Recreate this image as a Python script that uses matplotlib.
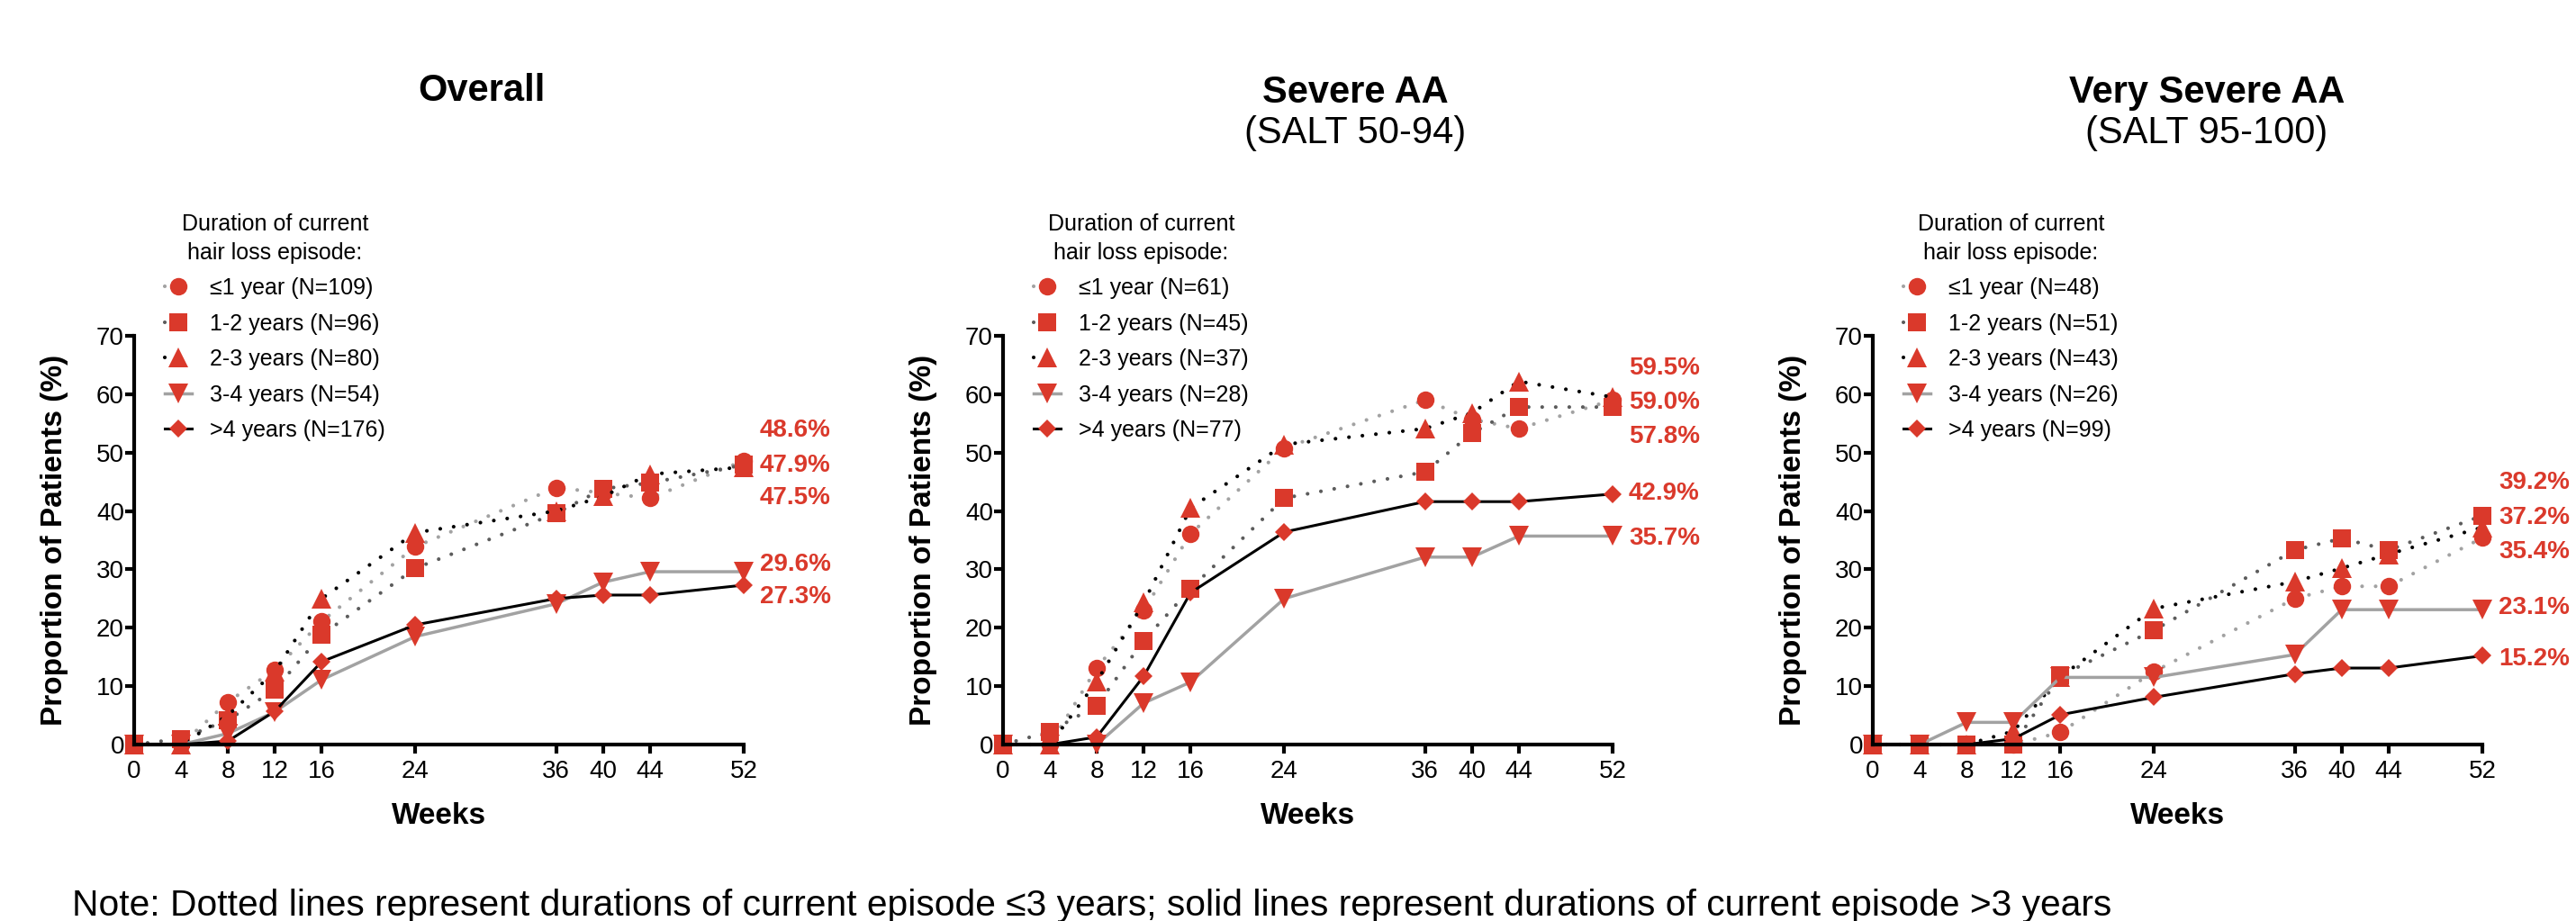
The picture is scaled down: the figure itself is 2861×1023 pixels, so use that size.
import matplotlib
matplotlib.use('Agg')
import matplotlib.pyplot as plt

plt.rcParams['font.family'] = ['Liberation Sans', 'DejaVu Sans']

weeks = [0, 4, 8, 12, 16, 24, 36, 40, 44, 52]
durations = ['\u22641 year', '1-2 years', '2-3 years', '3-4 years', '>4 years']

# Overall
overall_le1 = [0, 0, 7.3, 12.8, 21.1, 33.9, 44.0, 43.1, 42.2, 48.6]
overall_1_2 = [0, 1.0, 4.2, 9.4, 18.8, 30.2, 39.6, 43.8, 44.8, 47.9]
overall_2_3 = [0, 0, 5.0, 12.5, 25.0, 36.3, 40.0, 42.5, 46.3, 47.5]
overall_3_4 = [0, 0, 1.9, 5.6, 11.1, 18.5, 24.1, 27.8, 29.6, 29.6]
overall_gt4 = [0, 0, 0.6, 5.7, 14.2, 20.5, 25.0, 25.6, 25.6, 27.3]
overall_n = [109, 96, 80, 54, 176]

# Severe AA (SALT 50-94)
severe_le1 = [0, 0, 13.1, 23.0, 36.1, 50.8, 59.0, 55.7, 54.1, 59.0]
severe_1_2 = [0, 2.2, 6.7, 17.8, 26.7, 42.2, 46.7, 53.3, 57.8, 57.8]
severe_2_3 = [0, 0, 10.8, 24.3, 40.5, 51.4, 54.1, 56.8, 62.2, 59.5]
severe_3_4 = [0, 0, 0, 7.1, 10.7, 25.0, 32.1, 32.1, 35.7, 35.7]
severe_gt4 = [0, 0, 1.3, 11.7, 26.0, 36.4, 41.6, 41.6, 41.6, 42.9]
severe_n = [61, 45, 37, 28, 77]

# Very severe AA (SALT 95-100)
vsevere_le1 = [0, 0, 0, 0, 2.1, 12.5, 25.0, 27.1, 27.1, 35.4]
vsevere_1_2 = [0, 0, 0, 0, 11.8, 19.6, 33.3, 35.3, 33.3, 39.2]
vsevere_2_3 = [0, 0, 0, 2.3, 11.6, 23.3, 27.9, 30.2, 32.6, 37.2]
vsevere_3_4 = [0, 0, 3.8, 3.8, 11.5, 11.5, 15.4, 23.1, 23.1, 23.1]
vsevere_gt4 = [0, 0, 0, 1.0, 5.1, 8.1, 12.1, 13.1, 13.1, 15.2]
vsevere_n = [48, 51, 43, 26, 99]

RED = '#DA392B'
dots = (0, (0.01, 3.6))
styles = [
    dict(color='#a2a2a2', ls=dots, lw=3, marker='o', ms=14),
    dict(color='#5c5c5c', ls=dots, lw=3, marker='s', ms=14),
    dict(color='black', ls=dots, lw=3, marker='^', ms=16),
    dict(color='#a2a2a2', ls='-', lw=2.5, marker='v', ms=16),
    dict(color='black', ls='-', lw=2.2, marker='D', ms=10.5),
]

W, H = 2861, 1023
fig = plt.figure(figsize=(W / 100, H / 100), dpi=100)


def draw_panel(left_px, series, ns, label_y):
    ax = fig.add_axes([left_px / W, 1 - 827 / H, 677 / W, 454 / H])
    handles = []
    for vals, st, name, n in zip(series, styles, durations, ns):
        ln, = ax.plot(weeks, vals, color=st['color'], linestyle=st['ls'], lw=st['lw'],
                      dash_capstyle='round', marker=st['marker'], ms=st['ms'],
                      markerfacecolor=RED, markeredgewidth=0, clip_on=False,
                      label=f'{name} (N={n})')
        handles.append(ln)
    # end-of-curve labels
    for vals, ly in zip(series, label_y):
        ax.annotate(f'{vals[-1]:.1f}%', xy=(weeks[-1], ly), xytext=(13, 0),
                    textcoords='offset points', ha='left', va='center',
                    color=RED, fontsize=20, fontweight='bold', annotation_clip=False)
    ax.set_xlim(0, 52)
    ax.set_ylim(0, 70)
    ax.set_xticks(weeks)
    ax.set_yticks(range(0, 71, 10))
    for s in ['top', 'right']:
        ax.spines[s].set_visible(False)
    for s in ['left', 'bottom']:
        ax.spines[s].set_linewidth(3)
    ax.tick_params(width=3, length=7, labelsize=20)
    ax.tick_params(axis='y', pad=1)
    ax.tick_params(axis='x', pad=5)
    ax.set_ylabel('Proportion of Patients (%)', fontsize=24, fontweight='bold', va='center')
    ax.yaxis.set_label_coords(-0.131, 0.5)
    ax.set_xlabel('Weeks', fontsize=24, fontweight='bold', va='center')
    ax.xaxis.set_label_coords(0.5, -0.176)
    leg = ax.legend(handles=handles, loc='upper left',
                    bbox_to_anchor=((left_px + 34) / W, 1 - 237 / H),
                    bbox_transform=fig.transFigure, frameon=False,
                    title='Duration of current\nhair loss episode:',
                    fontsize=18, title_fontsize=18, borderpad=0, borderaxespad=0,
                    handlelength=1.2, handletextpad=0.8, labelspacing=0.62)
    leg.get_title().set_multialignment('center')
    leg.get_title().set_linespacing(1.4)
    return ax


draw_panel(149, [overall_le1, overall_1_2, overall_2_3, overall_3_4, overall_gt4],
           overall_n, [53.8, 47.8, 42.2, 30.8, 25.3])
draw_panel(1114, [severe_le1, severe_1_2, severe_2_3, severe_3_4, severe_gt4],
           severe_n, [58.6, 52.7, 64.4, 35.3, 43.0])
draw_panel(2080, [vsevere_le1, vsevere_1_2, vsevere_2_3, vsevere_3_4, vsevere_gt4],
           vsevere_n, [33.0, 44.8, 38.9, 23.4, 14.7])

# panel titles
fig.text(535 / W, 1 - 101 / H, 'Overall', ha='center', va='center', fontsize=30, fontweight='bold')
fig.text(1505 / W, 1 - 103 / H, 'Severe AA', ha='center', va='center', fontsize=30, fontweight='bold')
fig.text(1505 / W, 1 - 148 / H, '(SALT 50-94)', ha='center', va='center', fontsize=30)
fig.text(2451 / W, 1 - 103 / H, 'Very Severe AA', ha='center', va='center', fontsize=30, fontweight='bold')
fig.text(2451 / W, 1 - 148 / H, '(SALT 95-100)', ha='center', va='center', fontsize=30)

fig.text(80 / W, 1 - 1006 / H,
         'Note: Dotted lines represent durations of current episode \u22643 years; '
         'solid lines represent durations of current episode >3 years',
         ha='left', va='center', fontsize=29.3)

fig.savefig('out.png', dpi=100)
